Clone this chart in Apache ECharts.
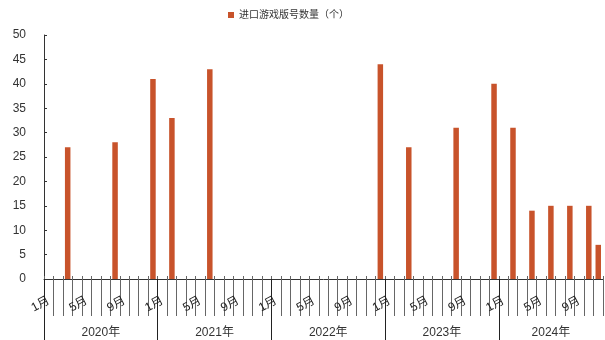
<!DOCTYPE html>
<html>
<head>
<meta charset="utf-8">
<script src="https://cdn.jsdelivr.net/npm/echarts@6/dist/echarts.min.js"></script>
<style>
  html, body { margin: 0; padding: 0; background: #fff; }
  #chart { width: 605px; height: 340px; }
</style>
</head>
<body>
<div id="chart"></div>
<script>
// Monthly batches, Jan 2020 – Nov 2024
const years = ['2020年', '2021年', '2022年', '2023年', '2024年'];
const monthsPerYear = [12, 12, 12, 12, 11];
const seriesName = '进口游戏版号数量（个）';

// approvals per month, one row per year (null = no batch that month)
const approvals2020 = [null, null, 27, null, null, null, null, 28, null, null, null, 41];
const approvals2021 = [null, 33, null, null, null, 43, null, null, null, null, null, null];
const approvals2022 = [null, null, null, null, null, null, null, null, null, null, null, 44];
const approvals2023 = [null, null, 27, null, null, null, null, 31, null, null, null, 40];
const approvals2024 = [null, 31, null, 14, null, 15, null, 15, null, 15, 7];

const yTicks = { min: 0, max: 50, interval: 5 };
const shownMonths = [1, 5, 9];

const values = [].concat(approvals2020, approvals2021, approvals2022, approvals2023, approvals2024);
const categories = [];
const yearStart = [];
const yearMid = [];
let idx = 0;
years.forEach((y, i) => {
  yearStart.push(idx);
  yearMid.push(idx + monthsPerYear[i] / 2);
  for (let m = 1; m <= monthsPerYear[i]; m++) categories.push(y + m + '月');
  idx += monthsPerYear[i];
});
const total = categories.length;

const FONT = "'Liberation Sans', 'Noto Sans CJK SC', sans-serif";
const BAR = '#C8532B';

const chart = echarts.init(document.getElementById('chart'), null, { renderer: 'canvas' });
chart.setOption({
  animation: false,
  legend: {
    left: 223, top: 5,
    itemWidth: 6, itemHeight: 6, itemGap: 10,
    icon: 'rect',
    textStyle: { fontSize: 10, color: '#333', fontFamily: FONT },
    data: [seriesName]
  },
  grid: { left: 44, right: 2, top: 35, bottom: 61, containLabel: false },
  xAxis: [
    {
      type: 'category', data: categories, position: 'bottom',
      axisLine: { show: true, lineStyle: { color: '#333', width: 1 } },
      axisTick: { show: true, interval: 0, length: 37, lineStyle: { color: '#666' } },
      axisLabel: {
        interval: 0, rotate: 28, margin: 21, fontSize: 12, color: '#222', fontFamily: FONT,
        formatter: v => {
          const m = parseInt(v.slice(5), 10);
          return shownMonths.includes(m) ? m + '月' : '';
        }
      },
      splitLine: { show: false }
    },
    {
      type: 'category', data: categories, position: 'bottom',
      axisLine: { show: false },
      axisTick: { show: true, inside: true, interval: 0, length: 3, lineStyle: { color: '#666' } },
      axisLabel: { show: false },
      splitLine: { show: false }
    },
    {
      type: 'value', min: 0, max: total, position: 'bottom',
      axisLine: { show: false },
      axisTick: { show: true, length: 61, customValues: yearStart, lineStyle: { color: '#222' } },
      axisLabel: {
        show: true, customValues: yearMid, margin: 48, fontSize: 12, color: '#333', fontFamily: FONT,
        formatter: v => years[yearMid.indexOf(v)] || ''
      },
      splitLine: { show: false }
    }
  ],
  yAxis: {
    type: 'value', min: yTicks.min, max: yTicks.max, interval: yTicks.interval,
    axisLine: { show: true, lineStyle: { color: '#333' } },
    axisTick: { show: true, inside: true, length: 3, lineStyle: { color: '#333' } },
    axisLabel: { margin: 18, fontSize: 12, color: '#333', fontFamily: FONT },
    splitLine: { show: false }
  },
  series: [{
    name: seriesName, type: 'bar', xAxisIndex: 0,
    data: values, barWidth: 5.5,
    itemStyle: { color: BAR }
  }]
});
</script>
</body>
</html>
